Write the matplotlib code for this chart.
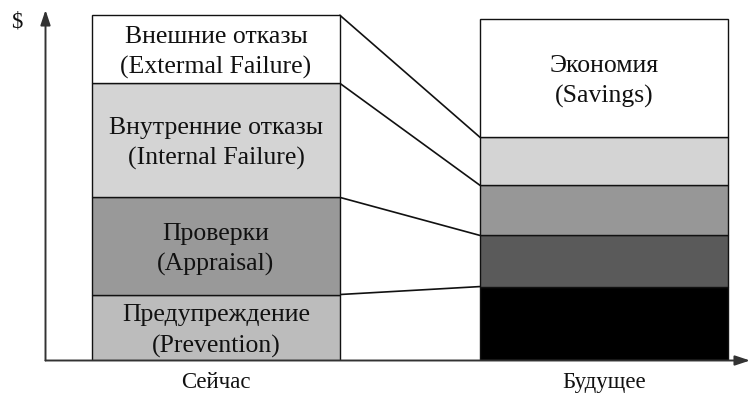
import matplotlib
matplotlib.use("Agg")
import matplotlib.pyplot as plt
import numpy as np

plt.rcParams['font.family'] = ['Liberation Serif', 'DejaVu Serif']

categories = ["Сейчас", "Будущее"]

now_labels = ["Предупреждение\n(Prevention)", "Проверки\n(Appraisal)",
              "Внутренние отказы\n(Internal Failure)", "Внешние отказы\n(Extermal Failure)"]
now_values = [19.1, 28.1, 33.0, 19.7]
now_colors = ["#bcbcbc", "#999999", "#d4d4d4", "#ffffff"]

future_labels = ["", "", "", "", "Экономия\n(Savings)"]
future_values = [21.4, 14.8, 14.5, 13.9, 34.2]
future_colors = ["#000000", "#5a5a5a", "#979797", "#d4d4d4", "#ffffff"]

W, H = 753, 393
fig = plt.figure(figsize=(W / 100, H / 100), dpi=100)
left_px, right_px, bottom_px, top_px = 45.5, 750, 360.5, 10
ax = fig.add_axes([left_px / W, (H - bottom_px) / H, (right_px - left_px) / W, (bottom_px - top_px) / H])

px_per_unit = (360.5 - 15) / 100.0
ax.set_ylim(0, (bottom_px - top_px) / px_per_unit)
x_unit = 388.0
ax.set_xlim(-(216 - left_px) / x_unit, 1 + (right_px - 604) / x_unit)
width = 248 / x_unit
x = np.arange(len(categories))

def stack(xpos, values, colors, labels):
    bottoms = np.concatenate([[0], np.cumsum(values)[:-1]])
    for v, b, c, lab in zip(values, bottoms, colors, labels):
        ax.bar(xpos, v, width=width, bottom=b, color=c, edgecolor="#111111", linewidth=1.0, zorder=2)
        if lab:
            ax.annotate(lab, xy=(xpos, b + v / 2), xytext=(0, -2.5), textcoords="offset points",
                        ha="center", va="center", fontsize=18.5,
                        linespacing=1.45, color="#111111", zorder=3)
    return np.cumsum(values)

now_tops = stack(x[0], now_values, now_colors, now_labels)
fut_tops = stack(x[1], future_values, future_colors, future_labels)

for a, b in zip(now_tops, fut_tops[:4]):
    ax.plot([x[0] + width / 2, x[1] - width / 2], [a, b], color="#111111", linewidth=1.2, zorder=1)

for s in ax.spines.values():
    s.set_visible(False)
ax.set_xticks([])
ax.set_yticks([])

ax.annotate("", xy=(1.0, 0), xytext=(0, 0), xycoords="axes fraction",
            arrowprops=dict(arrowstyle="-|>,head_length=0.9,head_width=0.3", color="#333333", lw=1.4, shrinkA=0, shrinkB=0))
ax.annotate("", xy=(0, 1.0), xytext=(0, 0), xycoords="axes fraction",
            arrowprops=dict(arrowstyle="-|>,head_length=0.9,head_width=0.3", color="#333333", lw=1.4, shrinkA=0, shrinkB=0))

for xi, cat in zip(x, categories):
    ax.annotate(cat, xy=(xi, 0), xycoords="data", xytext=(0, -15.5), textcoords="offset points",
                ha="center", va="center", fontsize=16.5, color="#111111", annotation_clip=False)

fig.text(17 / W, 1 - 22 / H, "$", ha="center", va="center", fontsize=16.5, color="#111111")

fig.savefig("out.png", dpi=100)
